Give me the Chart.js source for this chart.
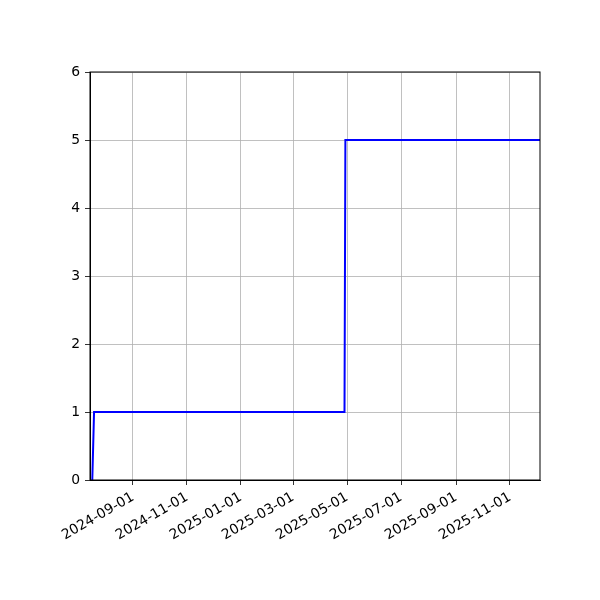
<!DOCTYPE html>
<html>
<head>
<meta charset="utf-8">
<script src="https://cdn.jsdelivr.net/npm/chart.js@4"></script>
<style>
  html, body { margin: 0; padding: 0; background: #fff; }
  #wrap { width: 600px; height: 600px; }
</style>
</head>
<body>
<div id="wrap"><canvas id="myChart" width="600" height="600"></canvas></div>
<script>
// values
const dates = ['2024-07-17', '2024-07-19', '2025-04-28', '2025-04-29', '2025-12-06']
const counts = [0, 1, 1, 5, 5]
const tickDates = ['2024-09-01', '2024-11-01', '2025-01-01', '2025-03-01', '2025-05-01', '2025-07-01', '2025-09-01', '2025-11-01']
const yTicks = [0, 1, 2, 3, 4, 5, 6]
const xRange = ['2024-07-14T10:00:00Z', '2025-12-04T22:00:00Z']

const toMs = d => Date.parse(d.length === 10 ? d + 'T00:00:00Z' : d)
const fmt = v => new Date(v).toISOString().slice(0, 10)

const font = { family: 'DejaVu Sans', size: 13.9 }

// matplotlib style frame on all four sides
const framePlugin = {
    id: 'frame',
    afterDraw(chart) {
        const { ctx, chartArea: a } = chart
        ctx.save()
        ctx.strokeStyle = '#000'
        ctx.lineWidth = 1
        ctx.strokeRect(a.left, a.top, a.right - a.left, a.bottom - a.top)
        ctx.restore()
    }
}

const ctx = document.getElementById('myChart').getContext('2d')
new Chart(ctx, {
    type: 'line',
    data: {
        datasets: [{
            data: dates.map((d, i) => ({ x: toMs(d), y: counts[i] })),
            borderColor: '#0000ff',
            borderWidth: 2,
            pointRadius: 0,
            tension: 0,
            fill: false
        }]
    },
    options: {
        responsive: false,
        animation: false,
        layout: { padding: { top: 72, right: 60, left: 0, bottom: 0 } },
        plugins: { legend: { display: false }, tooltip: { enabled: false } },
        scales: {
            x: {
                type: 'linear',
                min: toMs(xRange[0]),
                max: toMs(xRange[1]),
                afterBuildTicks: scale => {
                    scale.ticks = tickDates.map(d => ({ value: toMs(d) }))
                },
                afterFit: scale => { scale.height = 120 },
                ticks: {
                    autoSkip: false,
                    minRotation: 30,
                    maxRotation: 30,
                    color: '#000',
                    font,
                    padding: 4,
                    callback: v => fmt(v)
                },
                grid: { color: '#b0b0b0', lineWidth: 0.8, tickColor: '#000', tickLength: 5 },
                border: { display: true, color: '#000', width: 1 }
            },
            y: {
                min: 0,
                max: 6,
                afterBuildTicks: scale => {
                    scale.ticks = yTicks.map(v => ({ value: v }))
                },
                afterFit: scale => { scale.width = 90 },
                ticks: { color: '#000', font, padding: 5 },
                grid: { color: '#b0b0b0', lineWidth: 0.8, tickColor: '#000', tickLength: 5 },
                border: { display: true, color: '#000', width: 1 }
            }
        }
    },
    plugins: [framePlugin]
})
</script>
</body>
</html>
